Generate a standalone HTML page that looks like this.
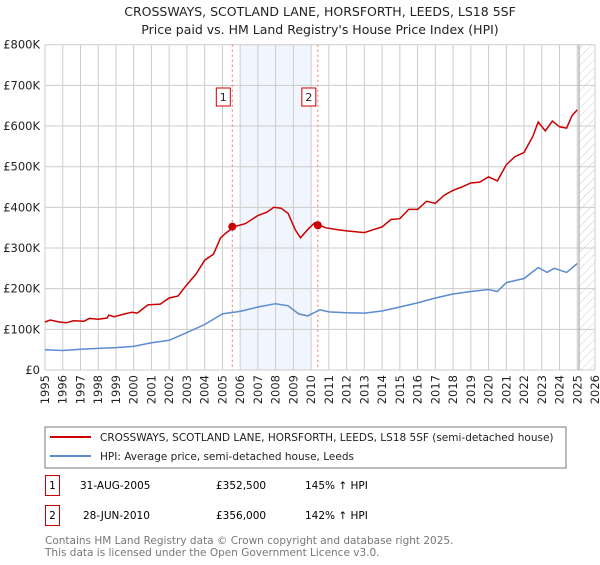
<!DOCTYPE html>
<html><head><meta charset="utf-8"><style>
body{margin:0;background:#fff;font-family:"Liberation Sans","DejaVu Sans",sans-serif;}
svg text{font-family:"DejaVu Sans","Liberation Sans",sans-serif;}
</style></head><body>
<svg id="c" width="600" height="560" viewBox="0 0 600 560" xmlns="http://www.w3.org/2000/svg">
<defs><pattern id="hatch" width="6" height="6" patternUnits="userSpaceOnUse" patternTransform="rotate(45)"><line x1="0" y1="0" x2="0" y2="6" stroke="#ccc" stroke-width="1"/></pattern></defs>
<text x="320" y="16" text-anchor="middle" font-size="12.5" fill="#222">CROSSWAYS, SCOTLAND LANE, HORSFORTH, LEEDS, LS18 5SF</text>
<text x="320" y="34" text-anchor="middle" font-size="12.5" fill="#222">Price paid vs. HM Land Registry's House Price Index (HPI)</text>
<g id="plot"></g>
<rect x="45" y="427" width="521" height="41" fill="#fff" stroke="#777"/>
<line x1="50" y1="437" x2="91" y2="437" stroke="#cc0000" stroke-width="2"/>
<text x="100" y="441" font-size="10.5" fill="#222">CROSSWAYS, SCOTLAND LANE, HORSFORTH, LEEDS, LS18 5SF (semi-detached house)</text>
<line x1="50" y1="456" x2="91" y2="456" stroke="#5b8bd0" stroke-width="2"/>
<text x="100" y="460" font-size="10.5" fill="#222">HPI: Average price, semi-detached house, Leeds</text>
<g>
<rect x="45.5" y="475.5" width="14" height="20" fill="#fff" stroke="#cc0000"/>
<text x="52.5" y="489" text-anchor="middle" font-size="10.5">1</text>
<text x="80" y="489" font-size="10.5">31-AUG-2005</text>
<text x="216" y="489" font-size="10.5">£352,500</text>
<text x="305" y="489" font-size="10.5">145% ↑ HPI</text></g>
<g>
<rect x="45.5" y="505.5" width="14" height="20" fill="#fff" stroke="#cc0000"/>
<text x="52.5" y="519" text-anchor="middle" font-size="10.5">2</text>
<text x="83" y="519" font-size="10.5">28-JUN-2010</text>
<text x="216" y="519" font-size="10.5">£356,000</text>
<text x="305" y="519" font-size="10.5">142% ↑ HPI</text></g>
<text x="45" y="544" font-size="10.5" fill="#777">Contains HM Land Registry data © Crown copyright and database right 2025.</text>
<text x="45" y="556" font-size="10.5" fill="#777">This data is licensed under the Open Government Licence v3.0.</text>
</svg>
<script>
const yearTicks=[1995,1996,1997,1998,1999,2000,2001,2002,2003,2004,2005,2006,2007,2008,2009,2010,2011,2012,2013,2014,2015,2016,2017,2018,2019,2020,2021,2022,2023,2024,2025,2026];
const valueTicks=[0,100,200,300,400,500,600,700,800];
const valueLabels=["£0","£100K","£200K","£300K","£400K","£500K","£600K","£700K","£800K"];
const propYears=[1995,1995.3,1995.8,1996.2,1996.6,1997.2,1997.5,1998,1998.5,1998.6,1998.9,1999.5,1999.9,2000.2,2000.5,2000.8,2001.5,2002,2002.5,2003,2003.5,2004,2004.5,2004.9,2005.2,2005.67,2006.3,2007,2007.5,2007.9,2008.3,2008.7,2009.1,2009.4,2009.8,2010.2,2010.49,2010.8,2011.5,2012,2012.5,2013,2013.5,2014,2014.5,2015,2015.5,2016,2016.5,2017,2017.5,2018,2018.5,2019,2019.5,2020,2020.5,2021,2021.5,2022,2022.5,2022.8,2023.2,2023.6,2024,2024.4,2024.7,2025];
const propValues=[118,123,118,116,121,120,127,125,128,135,131,138,142,140,150,160,162,177,182,210,235,270,285,325,337,352.5,360,380,388,400,398,385,345,325,345,362,356,350,345,342,340,338,345,352,370,372,395,395,415,410,430,442,450,460,462,475,465,505,525,535,575,610,588,612,598,595,625,640];
const hpiYears=[1995,1996,1997,1998,1999,2000,2001,2002,2003,2004,2005,2006,2007,2008,2008.7,2009.3,2009.8,2010.5,2011,2012,2013,2014,2015,2016,2017,2018,2019,2020,2020.5,2021,2022,2022.8,2023.3,2023.7,2024.4,2025];
const hpiValues=[50,48,51,53,55,58,67,73,92,112,138,144,155,163,158,138,133,148,143,141,140,145,155,165,177,187,193,198,193,215,225,252,240,250,240,262];
const saleYears=[2005.67,2010.49];
const saleValues=[352.5,356];
const saleLabels=["1","2"];
const X0=45,X1=595,Y0=370,Y1=44.7;
const x=y=>X0+(y-1995)/(2026-1995)*(X1-X0);
const yv=v=>Y0-v/800*(Y0-Y1);
const NS="http://www.w3.org/2000/svg";
const g=document.getElementById('plot');
function mk(t,a){const e=document.createElementNS(NS,t);for(const k in a)e.setAttribute(k,a[k]);g.appendChild(e);return e;}
let e;
e=mk('rect',{x:x(2006),y:Y1,width:x(2010)-x(2006),height:Y0-Y1,fill:'#eef3fc',opacity:0.8});


e=mk('rect',{x:x(2025.1),y:Y1,width:X1-x(2025.1),height:Y0-Y1,fill:'url(#hatch)'});


yearTicks.forEach(t=>{
 e=mk('line',{x1:x(t),x2:x(t),y1:Y1,y2:Y0,stroke:'#ccc','stroke-width':1});
 
 
 e=mk('text',{x:0,y:0,'font-size':11.5,fill:'#222','text-anchor':'end',transform:`translate(${x(t)+4},${Y0+5}) rotate(-90)`});
 e.textContent=t;
 
 
});
valueTicks.forEach((v,i)=>{
 e=mk('line',{x1:X0,x2:X1,y1:yv(v),y2:yv(v),stroke:'#ccc','stroke-width':1});
 
 
 e=mk('text',{x:40,y:yv(v)+4,'font-size':11.5,fill:'#222','text-anchor':'end'});
 e.textContent=valueLabels[i];
 
 
});
e=mk('line',{x1:x(2025.1),x2:x(2025.1),y1:Y1,y2:Y0,stroke:'#999','stroke-width':1});


saleYears.forEach((s,i)=>{
 e=mk('line',{x1:x(s)-2,x2:x(s)-2,y1:Y1,y2:Y0,stroke:'#f07070','stroke-width':1,'stroke-dasharray':'2,3'});
 
 
 e=mk('rect',{x:x(s)-2-16,y:88,width:14,height:18,fill:'#fff',stroke:'#cc0000'});
 
 
 e=mk('text',{x:x(s)-2-9,y:101,'font-size':11,'text-anchor':'middle',fill:'#222'});
 e.textContent=saleLabels[i];
 
 
});
const path=(ys,vs)=>ys.map((t,i)=>(i?'L':'M')+x(t).toFixed(1)+','+yv(vs[i]).toFixed(1)).join('');
e=mk('path',{d:path(hpiYears,hpiValues),fill:'none',stroke:'#5b8bd0','stroke-width':1.5});


e=mk('path',{d:path(propYears,propValues),fill:'none',stroke:'#cc0000','stroke-width':1.5});


saleYears.forEach((s,i)=>{
 e=mk('circle',{cx:x(s)-2,cy:yv(saleValues[i]),r:4,fill:'#cc0000'});
 
 
});
</script>
</body></html>
